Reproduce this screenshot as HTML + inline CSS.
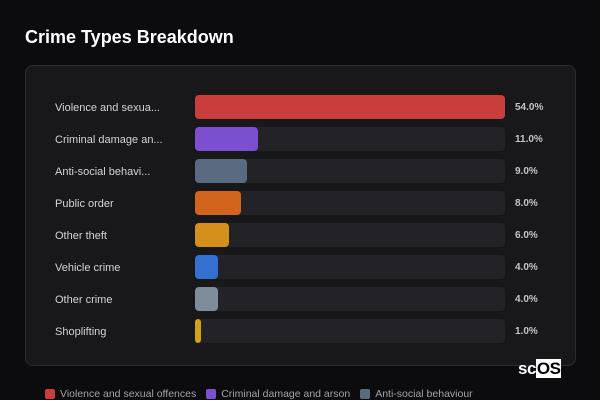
<!DOCTYPE html>
<html><head><meta charset="utf-8"><style>
body{margin:0;width:600px;height:400px;background:#0c0c0f;overflow:hidden;font-family:"Liberation Sans",sans-serif;position:relative}
#title{position:absolute;left:25px;top:27px;font-size:18px;font-weight:bold;color:#fff}
#panel{position:absolute;left:25px;top:65px;width:549px;height:299px;background:#18181b;border:1px solid #2c2c30;border-radius:8px}
.lbl{position:absolute;left:55px;font-size:11px;color:#d4d4d8;line-height:14px}
.track{position:absolute;left:195px;width:310px;height:24px;background:#232327;border-radius:4px}
.bar{position:absolute;left:0;top:0;height:24px;border-radius:4px}
.val{position:absolute;left:515px;font-size:10px;font-weight:bold;color:#c4c4c8;line-height:14px}
#legend{position:absolute;left:45px;top:388px;font-size:10.5px;color:#a1a1aa;display:flex;gap:10px}
.li{display:flex;align-items:center;gap:5px}
.sw{width:10px;height:10px;border-radius:2px}
#logo{position:absolute;left:518px;top:359px;font-size:17px;font-weight:bold;color:#fff;letter-spacing:-0.5px}
#logo span{background:#fff;color:#000;padding:0 1px}
</style></head><body>
<div id="title">Crime Types Breakdown</div>
<div id="panel"></div>
<div id="rows"></div>
<div id="legend"></div>
<div id="logo">sc<span>OS</span></div>
<script>
const labels=["Violence and sexua...","Criminal damage an...","Anti-social behavi...","Public order","Other theft","Vehicle crime","Other crime","Shoplifting"];
const values=[54,11,9,8,6,4,4,1];
const colors=["#c93d3d","#7b4fcf","#5a6a80","#d2641e","#d4901a","#3470d0","#7f8c9c","#d4a017"];
const legendNames=["Violence and sexual offences","Criminal damage and arson","Anti-social behaviour"];
const maxV=Math.max(...values);
const rows=document.getElementById('rows');
function x(v){return v/maxV*310;}
labels.forEach((l,i)=>{
  const top=95+i*32;
  const lb=document.createElement('div');lb.className='lbl';lb.style.top=(top+6)+'px';lb.textContent=l;
  
  
  rows.appendChild(lb);
  const t=document.createElement('div');t.className='track';t.style.top=top+'px';
  
  
  const b=document.createElement('div');b.className='bar';b.style.width=Math.max(x(values[i]),5)+'px';b.style.background=colors[i];
  
  
  t.appendChild(b);rows.appendChild(t);
  const v=document.createElement('div');v.className='val';v.style.top=(top+6)+'px';v.textContent=values[i].toFixed(1)+'%';
  
  
  rows.appendChild(v);
});
const lg=document.getElementById('legend');
legendNames.forEach((n,i)=>{
  const d=document.createElement('div');d.className='li';
  
  
  d.innerHTML='<div class="sw" style="background:'+colors[i]+'"></div>'+n;
  lg.appendChild(d);
});
</script>
</body></html>
